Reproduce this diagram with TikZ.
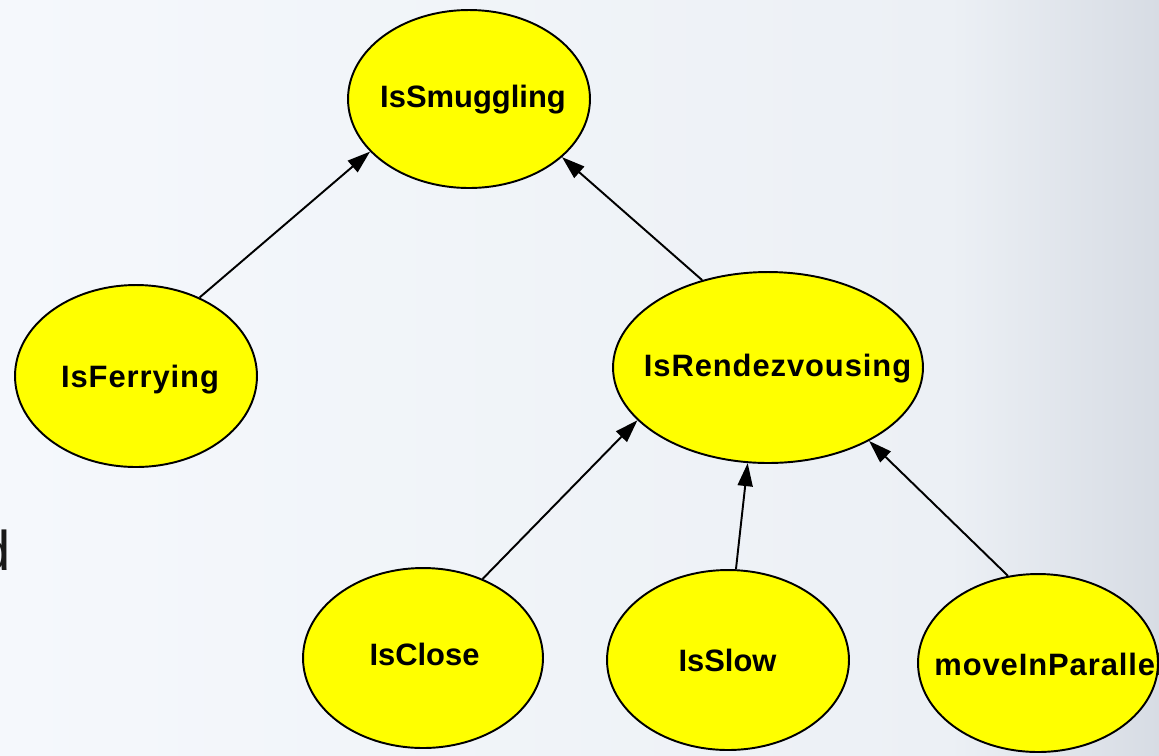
\documentclass[tikz,border=0pt]{standalone}
\usepackage{fontspec}
\setmainfont{Liberation Sans}
\newfontfamily\widelabelfont[LetterSpace=3]{Liberation Sans}
\usetikzlibrary{shapes.geometric,arrows.meta}
\definecolor{bgleft}{RGB}{245,248,252}
\definecolor{bgmid}{RGB}{236,240,245}
\definecolor{bgright}{RGB}{215,220,228}
\definecolor{conceptfill}{RGB}{255,255,0}
\begin{document}
\begin{tikzpicture}[x=0.02cm, y=-0.02cm,
  concept/.style={ellipse, draw=black, fill=conceptfill, line width=1.1pt, inner sep=0pt},
  conceptlabel/.style={font=\fontsize{17.6}{20}\selectfont\bfseries, inner sep=0pt, anchor=base},
  widelabel/.style={conceptlabel, font=\widelabelfont\fontsize{17.6}{20}\selectfont\bfseries},
  link/.style={draw=black, line width=1.1pt, -{Triangle[length=0.46cm, width=0.3cm]}}]
  \useasboundingbox (0,0) rectangle (1159,755);
  \clip (0,0) rectangle (1159,755);

  % soft slide background
  \shade[left color=bgleft, right color=bgmid] (0,0) rectangle (950,755);
  \shade[left color=bgmid, right color=bgright] (950,0) rectangle (1159,755);

  % fragment of slide text at the left margin
  \node[font=\fontsize{31.9}{36}\selectfont, inner sep=0pt, anchor=base east, text=black!90] (frag) at (11,570) {d};

  % concept ellipses
  \node[concept, minimum width=4.84cm, minimum height=3.56cm] (smug)  at (469,99)    {};
  \node[concept, minimum width=4.84cm, minimum height=3.64cm] (fer)   at (136,376)   {};
  \node[concept, minimum width=6.20cm, minimum height=3.82cm] (rend)  at (768,367.5) {};
  \node[concept, minimum width=4.80cm, minimum height=3.60cm] (close) at (423,658)   {};
  \node[concept, minimum width=4.84cm, minimum height=3.60cm] (slow)  at (728,660)   {};
  \node[concept, minimum width=4.80cm, minimum height=3.56cm] (mip)   at (1038,663)  {};

  % labels
  \node[conceptlabel] (smug-t)  at (473,107)   {IsSmuggling};
  \node[widelabel]    (fer-t)   at (140,387)   {IsFerrying};
  \node[widelabel]    (rend-t)  at (777.5,376) {IsRendezvousing};
  \node[conceptlabel] (close-t) at (424.5,665) {IsClose};
  \node[conceptlabel] (slow-t)  at (727.5,671) {IsSlow};
  \node[widelabel, anchor=base west] (mip-t) at (934,675) {moveInParallel};

  % dependencies
  \draw[link] (fer.51)   -- (smug.208);
  \draw[link] (rend.127) -- (smug.328);
  \draw[link] (close.53) -- (rend.202);
  \draw[link] (slow.85)  -- (rend.258);
  \draw[link] (mip.109)  -- (rend.324);
\end{tikzpicture}
\end{document}
